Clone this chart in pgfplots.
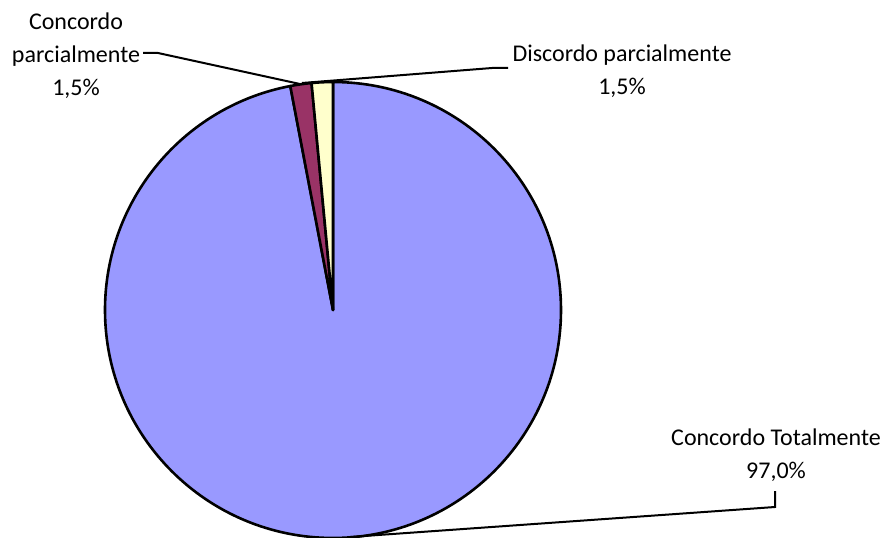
\documentclass[border=0pt]{standalone}
\usepackage{pgfplots}
\usepackage{pgfplotstable}
\usepackage{fontspec}
\setmainfont{Carlito}
\pgfplotsset{compat=1.18}
\definecolor{pieblue}{HTML}{9999FF}
\definecolor{piepurple}{HTML}{993366}
\definecolor{piecream}{HTML}{FFFFCC}
% shares (percent), clockwise from 12 o'clock
\pgfplotstableread{
label value
ConcordoTotalmente 97.0
ConcordoParcialmente 1.5
DiscordoParcialmente 1.5
}\piedata
\pgfplotstablegetelem{0}{value}\of\piedata\edef\vA{\pgfplotsretval}
\pgfplotstablegetelem{1}{value}\of\piedata\edef\vB{\pgfplotsretval}
\pgfplotstablegetelem{2}{value}\of\piedata\edef\vC{\pgfplotsretval}
\pgfmathsetmacro\aA{90}
\pgfmathsetmacro\aB{\aA-3.6*\vA}
\pgfmathsetmacro\aC{\aB-3.6*\vB}
\pgfmathsetmacro\aD{\aC-3.6*\vC}
\newcommand\R{114pt}
\begin{document}
\begin{tikzpicture}
\begin{axis}[
  width=442.5pt, height=268.5pt, scale only axis,
  xmin=0, xmax=885, ymin=0, ymax=537,
  hide axis, clip mode=global,
]
\filldraw[fill=pieblue, line width=1.3pt, line join=round] (axis cs:333,227) -- ++(\aA:\R) arc[start angle=\aA, end angle=\aB, radius=\R] -- cycle;
\filldraw[fill=piepurple, line width=1.3pt, line join=round] (axis cs:333,227) -- ++(\aB:\R) arc[start angle=\aB, end angle=\aC, radius=\R] -- cycle;
\filldraw[fill=piecream, line width=1.3pt, line join=round] (axis cs:333,227) -- ++(\aC:\R) arc[start angle=\aC, end angle=\aD, radius=\R] -- cycle;
% leader lines
\draw[line width=1pt] (axis cs:143,484) -- (axis cs:158,484) -- (axis cs:300,453);
\draw[line width=1pt] (axis cs:302,454) -- (axis cs:492,469) -- (axis cs:508,469);
\draw[line width=1pt] (axis cs:350,0) -- (axis cs:775,30) -- (axis cs:775,46);
% labels
\node[align=center, font=\fontsize{12}{16.5}\selectfont, text=black] at (axis cs:76,481) {Concordo\\parcialmente\\1,5\%};
\node[align=center, font=\fontsize{12}{16.5}\selectfont, text=black] at (axis cs:622,466) {Discordo parcialmente\\1,5\%};
\node[align=center, font=\fontsize{12}{16.5}\selectfont, text=black] at (axis cs:776,82) {Concordo Totalmente\\97,0\%};
\end{axis}
\pgfresetboundingbox
\path (current axis.south west) rectangle (current axis.north east);
\end{tikzpicture}
\end{document}
